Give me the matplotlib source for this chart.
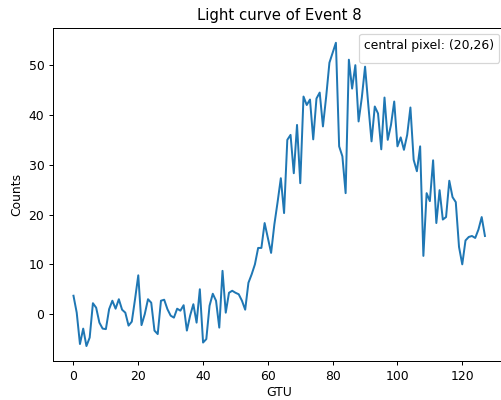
import matplotlib
matplotlib.use("Agg")
import matplotlib.pyplot as plt
import numpy as np

title = "Light curve of Event 8"
legend_label = "central pixel: (20,26)"
xlabel = "GTU"
ylabel = "Counts"

counts = [3.7, 0.3, -6.0, -2.9, -6.4, -4.7, 2.2, 1.3, -1.7, -2.9,
          -3.0, 1.0, 2.7, 1.1, 3.0, 0.9, 0.3, -2.3, -1.5, 3.0,
          7.8, -2.2, 0.0, 3.0, 2.3, -3.3, -4.0, 2.7, 2.9, 1.0,
          -0.3, -0.7, 1.1, 0.7, 1.8, -3.3, -0.3, 2.0, -1.7, 5.0,
          -5.7, -5.0, 1.7, 4.1, 2.7, -2.7, 8.7, 0.3, 4.3, 4.7,
          4.3, 4.0, 2.7, 0.9, 6.3, 8.0, 10.0, 13.3, 13.3, 18.3,
          15.3, 12.3, 18.0, 22.5, 27.3, 20.3, 35.0, 36.0, 28.3, 38.0,
          26.3, 43.7, 42.0, 43.1, 35.1, 43.3, 44.5, 37.7, 43.7, 50.5,
          52.5, 54.5, 33.7, 31.7, 24.3, 51.1, 45.3, 50.0, 38.7, 43.5,
          49.7, 42.0, 34.7, 41.7, 40.3, 33.1, 43.5, 35.0, 38.0, 42.7,
          33.7, 35.5, 33.0, 36.0, 41.5, 31.0, 28.7, 33.7, 11.7, 24.3,
          22.7, 30.9, 18.3, 24.9, 19.0, 19.5, 26.8, 23.5, 22.5, 13.5,
          10.0, 14.8, 15.5, 15.7, 15.3, 17.0, 19.5, 15.7]
gtu = list(range(len(counts)))

DPI = 89
fig = plt.figure(figsize=(501 / DPI, 400 / DPI), dpi=DPI)
ax = fig.add_axes([0.1056, 0.097, 0.9034, 0.834])
ax.plot(gtu, counts, color="#1f77b4", lw=1.6)
ax.set_title(title)
ax.set_xlabel(xlabel, labelpad=2.5)
ax.set_ylabel(ylabel)
ax.set_xticks([0, 20, 40, 60, 80, 100, 120])
ax.set_yticks([0, 10, 20, 30, 40, 50])
ax.legend(handles=[], labels=[], title=legend_label, loc="upper right")
fig.savefig("out.png", dpi=DPI)
